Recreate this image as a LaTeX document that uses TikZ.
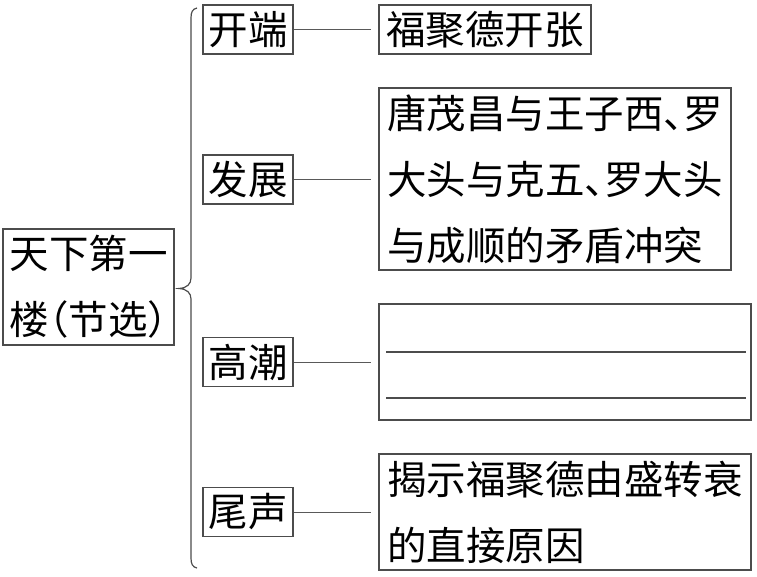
\documentclass[tikz,border=0pt]{standalone}
\usepackage{fontspec}
\newfontfamily\cjk[RawFeature=+halt]{Noto Sans CJK SC}

\begin{document}
\begin{tikzpicture}[x=1pt,y=-1pt,font=\fontsize{39.5}{66}\cjk,
	box/.style={draw=black!70,line width=1.2pt,inner sep=0pt,minimum height=49pt},
	lbl/.style={box,minimum width=90pt},
	textbox/.style={box,align=left,inner xsep=8pt},
	link/.style={draw=black!65,line width=1pt,shorten >=7pt}]
	\useasboundingbox (0,0) rectangle (757,576);

	% Title
	\node[box,minimum width=171pt,minimum height=116pt,text width=158pt,align=left] (tianxia) at (88.5,287) {天下第一\\楼（节选）};

	% Brace
	\draw[black!70,line width=1.2pt] (197,8) .. controls (192.5,9) and (191,12) .. (191,18) -- (191,278)
		.. controls (191,284) and (187,288) .. (179,288.5) .. controls (187,289) and (191,293) .. (191,299)
		-- (191,558) .. controls (191,564) and (192.5,567) .. (197,568);

	% Parts
	\foreach \name/\y/\txt in {kaiduan/29.5/开端,fazhan/179.5/发展,gaochao/362/高潮,weisheng/512/尾声}
		\node[lbl] (\name) at (248,\y) {\txt};

	% Contents
	\node[box,minimum width=212pt] (zhangkai) at (485,29.5) {福聚德开张};
	\node[textbox,text width=336pt,minimum height=182pt] (chongtu) at (555,179) {唐茂昌与王子西、罗\\大头与克五、罗大头\\与成顺的矛盾冲突};
	\node[box,minimum width=372pt,minimum height=116pt] (kongbai) at (565,362) {};
	\node[textbox,text width=356pt,minimum height=116pt] (yuanyin) at (565,512) {揭示福聚德由盛转衰\\的直接原因};

	% Blanks
	\foreach \dy in {10,-36}
		\draw[black!70,line width=1.1pt] ([xshift=8pt,yshift=\dy pt]kongbai.west) -- ([xshift=-6pt,yshift=\dy pt]kongbai.east);

	% Lines
	\foreach \a/\b in {kaiduan/zhangkai,fazhan/chongtu,gaochao/kongbai,weisheng/yuanyin}
		\draw[link] (\a.east) -- (\a.east -| \b.west);
\end{tikzpicture}
\end{document}
